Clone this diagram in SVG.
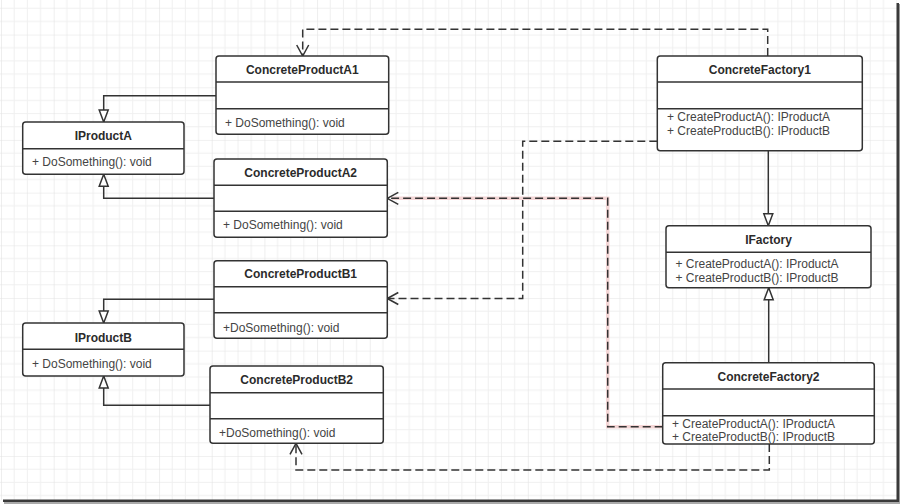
<svg xmlns="http://www.w3.org/2000/svg" width="900" height="504" viewBox="0 0 900 504">
<style>
.box{fill:#fff;stroke:#333;stroke-width:1.5}
.sep{stroke:#333;stroke-width:1.5}
.t{font-family:"Liberation Sans",Arial,sans-serif;font-size:12px;font-weight:bold;fill:#2b2b2b;text-anchor:middle}
.m{font-family:"Liberation Sans",Arial,sans-serif;font-size:12px;fill:#444}
.solid{fill:none;stroke:#333;stroke-width:1.5}
.dash{fill:none;stroke:#333;stroke-width:1.5;stroke-dasharray:8 4}
.halo{fill:none;stroke:#f4d6d6;stroke-width:3.5}
</style>
<defs>
<pattern id="grid" x="1" y="-18.1" width="52.68" height="52.68" patternUnits="userSpaceOnUse">
<path d="M13.17,0V52.68M26.34,0V52.68M39.51,0V52.68M0,13.17H52.68M0,26.34H52.68M0,39.51H52.68" stroke="#f0f0f0" stroke-width="1" fill="none"/>
<path d="M0,0V52.68M0,0H52.68" stroke="#e3e3e3" stroke-width="1.2" fill="none"/>
</pattern>
<marker id="tri" markerUnits="userSpaceOnUse" markerWidth="14" markerHeight="12" viewBox="0 0 14 12" refX="13" refY="6" orient="auto">
<path d="M1,1.5 L13,6 L1,10.5 Z" fill="#fff" stroke="#333" stroke-width="1.5" stroke-dasharray="none"/>
</marker>
<marker id="open" markerUnits="userSpaceOnUse" markerWidth="13" markerHeight="15" viewBox="0 0 13 15" refX="12" refY="7.5" orient="auto">
<path d="M1,1.5 L12,7.5 L1,13.5" fill="none" stroke="#333" stroke-width="1.5" stroke-dasharray="none"/>
</marker>
</defs>
<rect x="0" y="0" width="900" height="504" fill="#fff"/>
<rect x="0" y="0" width="897" height="500" fill="url(#grid)"/>
<rect x="896.5" y="3" width="2.5" height="499" fill="#3a3a3a"/>
<rect x="899" y="4" width="1" height="499" fill="#999"/>
<rect x="3" y="499.5" width="896" height="2.5" fill="#3a3a3a"/>
<rect x="4" y="502" width="896" height="2" fill="#aaa"/>

<g id="connectors">
<path class="solid" d="M216,95.7 H103.7 V122" marker-end="url(#tri)"/>
<path class="solid" d="M214,198.3 H103.7 V174.3" marker-end="url(#tri)"/>
<path class="solid" d="M214,299.3 H103.7 V323" marker-end="url(#tri)"/>
<path class="solid" d="M210,405.3 H103.7 V376" marker-end="url(#tri)"/>
<path class="solid" d="M768.3,150.7 V225.7" marker-end="url(#tri)"/>
<path class="solid" d="M768.7,362.7 V287.7" marker-end="url(#tri)"/>
<path class="dash" d="M767.7,56 V29.3 H302.7 V56" marker-end="url(#open)"/>
<path class="dash" d="M657.3,141.3 H522.7 V298.5 H387.3" marker-end="url(#open)"/>
<path class="halo" d="M662.7,426.7 H607.7 V198.3 H392"/>
<path class="dash" d="M662.7,426.7 H607.7 V198.3 H387.3" marker-end="url(#open)"/>
<path class="dash" d="M769.3,444 V470 H296 V443.3" marker-end="url(#open)"/>
</g>

<g id="ConcreteProductA1">
<rect class="box" x="216" y="56" width="172.7" height="78.3" rx="3"/>
<line class="sep" x1="216" y1="82" x2="388.7" y2="82"/>
<line class="sep" x1="216" y1="108.7" x2="388.7" y2="108.7"/>
<text class="t" x="302.3" y="73.5">ConcreteProductA1</text>
<text class="m" x="225" y="126.5">+ DoSomething(): void</text>
</g>
<g id="IProductA">
<rect class="box" x="22.7" y="122" width="161.3" height="52.3" rx="3"/>
<line class="sep" x1="22.7" y1="148.7" x2="184" y2="148.7"/>
<text class="t" x="103.3" y="139.5">IProductA</text>
<text class="m" x="32" y="166.3">+ DoSomething(): void</text>
</g>
<g id="ConcreteProductA2">
<rect class="box" x="214" y="159" width="173.3" height="78.3" rx="3"/>
<line class="sep" x1="214" y1="185.3" x2="387.3" y2="185.3"/>
<line class="sep" x1="214" y1="211.3" x2="387.3" y2="211.3"/>
<text class="t" x="300.7" y="177">ConcreteProductA2</text>
<text class="m" x="223" y="229">+ DoSomething(): void</text>
</g>
<g id="ConcreteProductB1">
<rect class="box" x="214" y="260.7" width="173.3" height="77.6" rx="3"/>
<line class="sep" x1="214" y1="286.7" x2="387.3" y2="286.7"/>
<line class="sep" x1="214" y1="312.7" x2="387.3" y2="312.7"/>
<text class="t" x="300.7" y="278">ConcreteProductB1</text>
<text class="m" x="223" y="331.5">+DoSomething(): void</text>
</g>
<g id="IProductB">
<rect class="box" x="22.7" y="323" width="161.3" height="53" rx="3"/>
<line class="sep" x1="22.7" y1="349.3" x2="184" y2="349.3"/>
<text class="t" x="103.3" y="341.5">IProductB</text>
<text class="m" x="32" y="367.5">+ DoSomething(): void</text>
</g>
<g id="ConcreteProductB2">
<rect class="box" x="210" y="366" width="173.3" height="77.3" rx="3"/>
<line class="sep" x1="210" y1="392.7" x2="383.3" y2="392.7"/>
<line class="sep" x1="210" y1="418.7" x2="383.3" y2="418.7"/>
<text class="t" x="296.7" y="383.5">ConcreteProductB2</text>
<text class="m" x="219" y="437">+DoSomething(): void</text>
</g>
<g id="ConcreteFactory1">
<rect class="box" x="657.3" y="56" width="205" height="94.7" rx="3"/>
<line class="sep" x1="657.3" y1="82" x2="862.3" y2="82"/>
<line class="sep" x1="657.3" y1="108.7" x2="862.3" y2="108.7"/>
<text class="t" x="759.8" y="74">ConcreteFactory1</text>
<text class="m" x="667" y="121">+ CreateProductA(): IProductA</text>
<text class="m" x="667" y="134.5">+ CreateProductB(): IProductB</text>
</g>
<g id="IFactory">
<rect class="box" x="666" y="225.7" width="205" height="62" rx="3"/>
<line class="sep" x1="666" y1="252.3" x2="871" y2="252.3"/>
<text class="t" x="768.5" y="243.5">IFactory</text>
<text class="m" x="675.5" y="268">+ CreateProductA(): IProductA</text>
<text class="m" x="675.5" y="281.5">+ CreateProductB(): IProductB</text>
</g>
<g id="ConcreteFactory2">
<rect class="box" x="662.7" y="362.7" width="211.6" height="81.3" rx="3"/>
<line class="sep" x1="662.7" y1="389" x2="874.3" y2="389"/>
<line class="sep" x1="662.7" y1="415.7" x2="874.3" y2="415.7"/>
<text class="t" x="768.5" y="380.5">ConcreteFactory2</text>
<text class="m" x="672" y="427.5">+ CreateProductA(): IProductA</text>
<text class="m" x="672" y="441">+ CreateProductB(): IProductB</text>
</g>
</svg>
